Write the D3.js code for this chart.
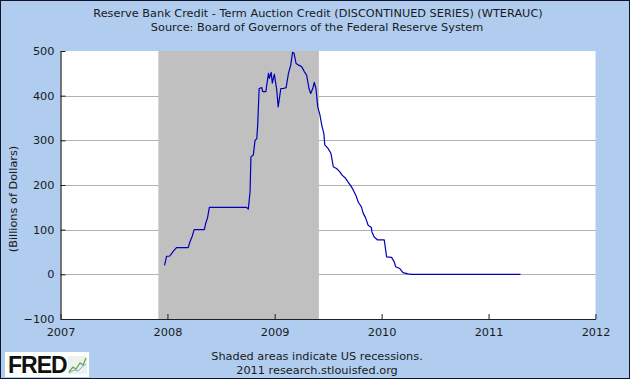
<!DOCTYPE html>
<html>
<head>
<meta charset="utf-8">
<script src="https://cdn.jsdelivr.net/npm/d3@7"></script>
<style>
  html, body { margin: 0; padding: 0; background: #fff; }
  svg { display: block; }
  text { font-family: "DejaVu Sans", Verdana, sans-serif; }
</style>
</head>
<body>
<svg id="chart" width="630" height="379"></svg>
<script>
// ---- data ----
const titleText = "Reserve Bank Credit - Term Auction Credit (DISCONTINUED SERIES) (WTERAUC)";
const subtitleText = "Source: Board of Governors of the Federal Reserve System";
const yAxisLabel = "(Billions of Dollars)";
const footer1 = "Shaded areas indicate US recessions.";
const footer2 = "2011 research.stlouisfed.org";

const yTicks = [-100, 0, 100, 200, 300, 400, 500];
const gridValues = [0, 100, 200, 300, 400];
const xTickYears = [2007, 2008, 2009, 2010, 2011, 2012];

const recessionStart = "2007-12-01";
const recessionEnd = "2009-06-01";

const dates = [
  "2007-12-22","2007-12-29","2008-01-09","2008-01-20","2008-02-01","2008-03-12",
  "2008-03-18","2008-03-26","2008-04-01","2008-05-06","2008-05-11","2008-05-17",
  "2008-05-23","2008-09-27","2008-10-03","2008-10-09","2008-10-12","2008-10-20",
  "2008-10-26","2008-11-01","2008-11-04","2008-11-09","2008-11-18","2008-11-21",
  "2008-12-02","2008-12-05","2008-12-11","2008-12-14","2008-12-20","2008-12-24",
  "2008-12-31","2009-01-08","2009-01-13","2009-01-22","2009-01-31","2009-02-09",
  "2009-02-17","2009-02-25","2009-03-03","2009-03-08","2009-03-15","2009-03-22",
  "2009-04-03","2009-04-12","2009-04-20","2009-04-28","2009-05-04","2009-05-11",
  "2009-05-16","2009-05-22","2009-05-28","2009-06-04","2009-06-11","2009-06-18",
  "2009-06-21","2009-07-02","2009-07-12","2009-07-20","2009-07-31","2009-08-11",
  "2009-08-19","2009-08-31","2009-09-08","2009-09-18","2009-09-26","2009-10-07",
  "2009-10-13","2009-10-24","2009-10-30","2009-11-07","2009-11-16","2009-11-27",
  "2009-11-29","2009-12-06","2009-12-18","2010-01-10","2010-01-14","2010-01-18",
  "2010-02-04","2010-02-13","2010-02-18","2010-03-04","2010-03-15","2010-04-01",
  "2010-04-13","2011-04-20"
];
const values = [
  20, 40, 41, 51, 60, 60,
  73, 86, 100, 100, 115, 127,
  150, 150, 146, 185, 263, 267,
  300, 304, 334, 416, 418, 409,
  409, 424, 450, 439, 452, 428,
  448, 413, 375, 416, 416, 418,
  450, 469, 497, 495, 472, 469,
  465, 454, 446, 416, 405, 416,
  430, 416, 375, 358, 333, 315,
  290, 282, 271, 241, 237, 230,
  222, 215, 207, 198, 189, 174,
  162, 151, 137, 127, 110, 105,
  95, 84, 77, 77, 58, 39,
  38, 28, 17, 13, 4, 1,
  0, 0
];

// ---- drawing ----
const W = 630, H = 379;
const plot = { left: 60.5, right: 595.5, top: 51, bottom: 319 };
const FS = "11.3px";
const parse = d3.timeParse("%Y-%m-%d");

const svg = d3.select("#chart");

// background + border
svg.append("rect").attr("x", 0.5).attr("y", 0.5).attr("width", W - 1).attr("height", H - 1)
  .attr("fill", "#b0cdf0").attr("stroke", "#10142a").attr("stroke-width", 1);

const x = d3.scaleTime()
  .domain([new Date(xTickYears[0], 0, 1), new Date(xTickYears[xTickYears.length - 1], 0, 1)])
  .range([plot.left, plot.right]);
const y = d3.scaleLinear()
  .domain([yTicks[0], yTicks[yTicks.length - 1]])
  .range([plot.bottom, plot.top]);

// plot area
svg.append("rect")
  .attr("x", plot.left).attr("y", plot.top)
  .attr("width", plot.right - plot.left).attr("height", plot.bottom - plot.top)
  .attr("fill", "#ffffff");

// gridlines
svg.append("g").selectAll("line").data(gridValues).join("line")
  .attr("x1", plot.left).attr("x2", plot.right)
  .attr("y1", d => Math.round(y(d)) + 0.5).attr("y2", d => Math.round(y(d)) + 0.5)
  .attr("stroke", "#b0b0b0").attr("stroke-width", 1);

// recession shading
svg.append("rect")
  .attr("x", x(parse(recessionStart))).attr("y", plot.top)
  .attr("width", x(parse(recessionEnd)) - x(parse(recessionStart)))
  .attr("height", plot.bottom - plot.top)
  .attr("fill", "#c0c0c0");

// series line
const series = dates.map((d, i) => ({ date: parse(d), value: values[i] }));
svg.append("path").datum(series)
  .attr("fill", "none").attr("stroke", "#0000b8").attr("stroke-width", 1.2)
  .attr("stroke-linejoin", "round")
  .attr("d", d3.line().x(d => x(d.date)).y(d => y(d.value)));

// axes
const yAxis = d3.axisLeft(y).tickValues(yTicks).tickSizeInner(-5).tickSizeOuter(0).tickPadding(6)
  .tickFormat(d3.format("d"));
const gy = svg.append("g").attr("transform", `translate(${plot.left},0)`).call(yAxis);

const xAxis = d3.axisBottom(x)
  .tickValues(xTickYears.map(yr => new Date(yr, 0, 1)))
  .tickSizeInner(-5).tickSizeOuter(0).tickPadding(9)
  .tickFormat(d3.timeFormat("%Y"));
const gx = svg.append("g").attr("transform", `translate(0,${plot.bottom})`).call(xAxis);

[gy, gx].forEach(g => {
  g.selectAll(".domain").attr("stroke", "#202020").attr("stroke-width", 1.2);
  g.selectAll(".tick line").attr("stroke", "#202020").attr("stroke-width", 1);
  g.selectAll("text").attr("fill", "#1a1a1a")
    .style("font-family", "'DejaVu Sans', Verdana, sans-serif").style("font-size", FS);
});

// titles
svg.append("text").attr("x", 318).attr("y", 17).attr("text-anchor", "middle")
  .attr("fill", "#1a1a1a").style("font-size", FS).text(titleText);
svg.append("text").attr("x", 317).attr("y", 31).attr("text-anchor", "middle")
  .attr("fill", "#1a1a1a").style("font-size", FS).text(subtitleText);

// y-axis label
svg.append("text").attr("transform", "translate(17,199) rotate(-90)").attr("text-anchor", "middle")
  .attr("fill", "#1a1a1a").style("font-size", FS).text(yAxisLabel);

// footer
svg.append("text").attr("x", 317).attr("y", 360).attr("text-anchor", "middle")
  .attr("fill", "#1a1a1a").style("font-size", FS).text(footer1);
svg.append("text").attr("x", 317).attr("y", 374).attr("text-anchor", "middle")
  .attr("fill", "#1a1a1a").style("font-size", FS).text(footer2);

// FRED logo
const logo = svg.append("g");
logo.append("rect").attr("x", 5).attr("y", 352).attr("width", 84).attr("height", 25).attr("fill", "#ffffff");
logo.append("text").attr("x", 8).attr("y", 373).attr("fill", "#111")
  .style("font-family", "'Liberation Sans', Arial, sans-serif").style("font-weight", "bold")
  .style("font-size", "23px").style("letter-spacing", "-1px").text("FRED");
logo.append("rect").attr("x", 68).attr("y", 356).attr("width", 19).attr("height", 18).attr("fill", "#eef2ee");
logo.append("path").attr("d", "M69,372 L73,367 L76,369 L80,363 L83,365 L86,358")
  .attr("fill", "none").attr("stroke", "#6aa84f").attr("stroke-width", 1.3);
logo.append("path").attr("d", "M69,373 L74,370 L78,371 L82,367 L86,364")
  .attr("fill", "none").attr("stroke", "#7fa6c9").attr("stroke-width", 1);
</script>
</body>
</html>
